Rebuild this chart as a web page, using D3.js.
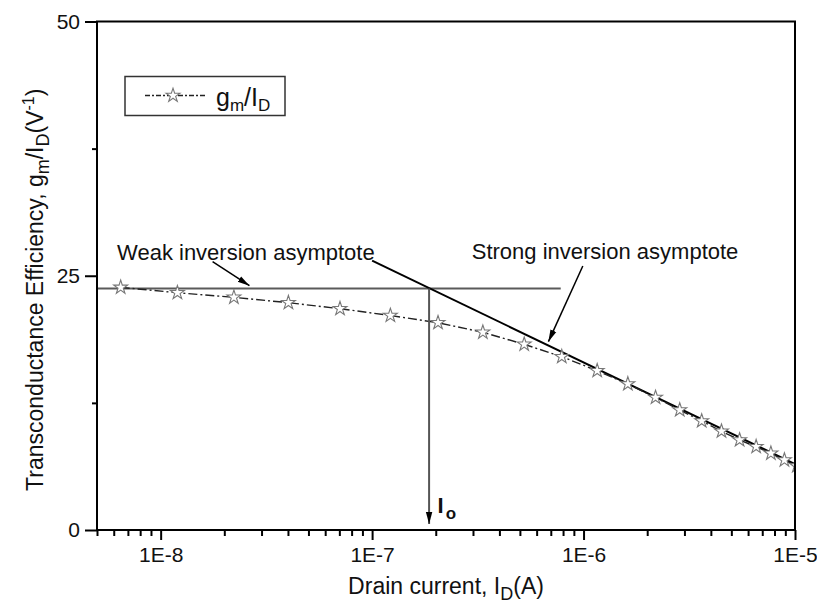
<!DOCTYPE html>
<html>
<head>
<meta charset="utf-8">
<script src="https://cdn.jsdelivr.net/npm/d3@7"></script>
<style>
  body { margin: 0; background: #fff; }
  text { font-family: "Liberation Sans", Arial, sans-serif; fill: #111; }
</style>
</head>
<body>
<div id="chart"></div>
<script>
// measured data (drain current in A, gm/Id in 1/V)
var drainCurrent = [6.47e-9, 1.20e-8, 2.22e-8, 4.02e-8, 7.05e-8, 1.22e-7, 2.05e-7, 3.34e-7,
  5.24e-7, 7.89e-7, 1.16e-6, 1.62e-6, 2.19e-6, 2.85e-6, 3.62e-6, 4.49e-6, 5.47e-6,
  6.55e-6, 7.69e-6, 8.91e-6, 1.02e-5];
var gmId = [23.86, 23.33, 22.88, 22.35, 21.76, 21.09, 20.38, 19.44, 18.26, 17.04, 15.66,
  14.36, 13.03, 11.80, 10.72, 9.71, 8.85, 8.19, 7.54, 6.88, 6.30];

// asymptotes and the I0 marker
var weakAsymptoteX = [5e-9, 7.8e-7];
var weakAsymptoteY = 23.75;
var strongAsymptoteX = [1e-7, 1e-5];
var strongAsymptoteY = [26.48, 6.49];
var currentI0 = 1.86e-7;

// annotation arrows: [x, y] start -> end in data units
var weakArrow = [[1.76e-8, 26.38], [2.63e-8, 24.02]];
var strongArrow = [[9.92e-7, 25.96], [6.82e-7, 18.52]];

// axis ticks
var xMajorTicks = [1e-8, 1e-7, 1e-6, 1e-5];
var xTickLabels = ["1E-8", "1E-7", "1E-6", "1E-5"];
var yMajorTicks = [0, 25, 50];
var yMinorTicks = [12.5, 37.5];

var svgWidth = 817;
var svgHeight = 612;
var margin = { top: 21.5, right: 22, bottom: 82, left: 97 };
var width = svgWidth - margin.left - margin.right;
var height = svgHeight - margin.top - margin.bottom;

var svg = d3.select("#chart")
  .append("svg")
  .attr("width", svgWidth)
  .attr("height", svgHeight);

var defs = svg.append("defs");
defs.append("clipPath").attr("id", "plotClip")
  .append("rect").attr("width", width).attr("height", height);

defs.append("marker")
  .attr("id", "arrowHead")
  .attr("markerUnits", "userSpaceOnUse")
  .attr("viewBox", "0 -4 12 8")
  .attr("markerWidth", 12).attr("markerHeight", 8)
  .attr("refX", 12).attr("refY", 0)
  .attr("orient", "auto")
  .append("path").attr("d", "M0,-3.2L12,0L0,3.2Z").attr("fill", "#000");

var chartGroup = svg.append("g")
  .attr("transform", `translate(${margin.left}, ${margin.top})`);

var xLogScale = d3.scaleLog().domain([5e-9, 1e-5]).range([0, width]);
var yLinearScale = d3.scaleLinear().domain([0, 50]).range([height, 0]);

// minor x ticks: 2..9 of every decade inside the domain
var xMinorTicks = xLogScale.ticks().filter(function(t) {
  return xMajorTicks.indexOf(t) < 0;
});

var minorX = d3.axisBottom(xLogScale).tickValues(xMinorTicks).tickSize(6).tickSizeOuter(0).tickFormat("");
var majorX = d3.axisBottom(xLogScale).tickValues(xMajorTicks).tickSize(10).tickSizeOuter(0).tickPadding(7)
  .tickFormat(function(d, i) { return xTickLabels[i]; });
var minorY = d3.axisLeft(yLinearScale).tickValues(yMinorTicks).tickSize(5).tickSizeOuter(0).tickFormat("");
var majorY = d3.axisLeft(yLinearScale).tickValues(yMajorTicks).tickSize(12).tickSizeOuter(0).tickPadding(5);

function styleAxis(g) {
  g.select(".domain").remove();
  g.selectAll(".tick line").attr("stroke", "#000").attr("stroke-width", 2);
  g.selectAll(".tick text").attr("font-size", "21px").attr("fill", "#111")
    .attr("font-family", "Liberation Sans, Arial, sans-serif");
}

chartGroup.append("g").attr("transform", `translate(0, ${height})`).call(minorX).call(styleAxis);
chartGroup.append("g").attr("transform", `translate(0, ${height})`).call(majorX).call(styleAxis);
chartGroup.append("g").call(minorY).call(styleAxis);
chartGroup.append("g").call(majorY).call(styleAxis);

var plot = chartGroup.append("g").attr("clip-path", "url(#plotClip)");

// weak inversion asymptote (horizontal)
plot.append("line")
  .attr("x1", xLogScale(weakAsymptoteX[0]))
  .attr("x2", xLogScale(weakAsymptoteX[1]))
  .attr("y1", yLinearScale(weakAsymptoteY))
  .attr("y2", yLinearScale(weakAsymptoteY))
  .attr("stroke", "#5a5a5a").attr("stroke-width", 2);

// vertical drop to I0
chartGroup.append("line")
  .attr("x1", xLogScale(currentI0)).attr("x2", xLogScale(currentI0))
  .attr("y1", yLinearScale(weakAsymptoteY)).attr("y2", yLinearScale(0) - 6)
  .attr("stroke", "#555").attr("stroke-width", 2)
  .attr("marker-end", "url(#arrowHead)");

// strong inversion asymptote
plot.append("line")
  .attr("x1", xLogScale(strongAsymptoteX[0])).attr("y1", yLinearScale(strongAsymptoteY[0]))
  .attr("x2", xLogScale(strongAsymptoteX[1])).attr("y2", yLinearScale(strongAsymptoteY[1]))
  .attr("stroke", "#000").attr("stroke-width", 2);

// gm/Id curve
var points = drainCurrent.map(function(d, i) { return [d, gmId[i]]; });
var lineGen = d3.line()
  .x(d => xLogScale(d[0]))
  .y(d => yLinearScale(d[1]));

plot.append("path")
  .datum(points)
  .attr("d", lineGen)
  .attr("fill", "none")
  .attr("stroke", "#222")
  .attr("stroke-width", 1.4)
  .attr("stroke-dasharray", "9,3,2,3");

var star = d3.symbol().type(d3.symbolStar).size(60);
plot.selectAll(".star")
  .data(points)
  .enter()
  .append("path")
  .attr("class", "star")
  .attr("d", star)
  .attr("transform", d => `translate(${xLogScale(d[0])}, ${yLinearScale(d[1])})`)
  .attr("fill", "#fff")
  .attr("stroke", "#777")
  .attr("stroke-width", 1.1);

// annotation arrows
[weakArrow, strongArrow].forEach(function(a) {
  chartGroup.append("line")
    .attr("x1", xLogScale(a[0][0])).attr("y1", yLinearScale(a[0][1]))
    .attr("x2", xLogScale(a[1][0])).attr("y2", yLinearScale(a[1][1]))
    .attr("stroke", "#000").attr("stroke-width", 1.5)
    .attr("marker-end", "url(#arrowHead)");
});

chartGroup.append("text")
  .attr("x", xLogScale(6.22e-9)).attr("y", yLinearScale(26.55))
  .attr("font-size", "22px")
  .text("Weak inversion asymptote");

chartGroup.append("text")
  .attr("x", xLogScale(2.96e-7)).attr("y", yLinearScale(26.62))
  .attr("font-size", "22px")
  .text("Strong inversion asymptote");

var i0Label = chartGroup.append("text")
  .attr("x", xLogScale(2.04e-7)).attr("y", yLinearScale(1.7))
  .attr("font-size", "22px").attr("font-weight", "bold");
i0Label.append("tspan").text("I");
i0Label.append("tspan").attr("dy", 6).attr("dx", 2).attr("font-size", "17px").text("o");

// frame
chartGroup.append("rect")
  .attr("width", width).attr("height", height)
  .attr("fill", "none").attr("stroke", "#000").attr("stroke-width", 2);

// legend
var legend = chartGroup.append("g").attr("transform", "translate(28, 55)");
legend.append("rect")
  .attr("width", 160).attr("height", 39)
  .attr("fill", "#fff").attr("stroke", "#333").attr("stroke-width", 1.5);
legend.append("line")
  .attr("x1", 20).attr("x2", 81).attr("y1", 19).attr("y2", 19)
  .attr("stroke", "#222").attr("stroke-width", 1.4).attr("stroke-dasharray", "5,2,2,2");
legend.append("path")
  .attr("d", star)
  .attr("transform", "translate(48, 19)")
  .attr("fill", "#fff").attr("stroke", "#777").attr("stroke-width", 1.1);
var legendText = legend.append("text").attr("x", 91).attr("y", 29).attr("font-size", "25px");
legendText.append("tspan").text("g");
legendText.append("tspan").attr("dy", 5).attr("font-size", "17px").text("m");
legendText.append("tspan").attr("dy", -5).text("/I");
legendText.append("tspan").attr("dy", 5).attr("font-size", "17px").text("D");

// axis titles
var xTitle = svg.append("text")
  .attr("x", margin.left + width / 2)
  .attr("y", 594)
  .attr("text-anchor", "middle")
  .attr("font-size", "23px");
xTitle.append("tspan").text("Drain current, I");
xTitle.append("tspan").attr("dy", 6).attr("font-size", "18px").text("D");
xTitle.append("tspan").attr("dy", -6).text("(A)");

var yTitle = svg.append("text")
  .attr("transform", `translate(43, ${margin.top + height / 2 + 14}) rotate(-90)`)
  .attr("text-anchor", "middle")
  .attr("font-size", "23px");
yTitle.append("tspan").text("Transconductance Efficiency, g");
yTitle.append("tspan").attr("dy", 6).attr("font-size", "18px").text("m");
yTitle.append("tspan").attr("dy", -6).text("/I");
yTitle.append("tspan").attr("dy", 6).attr("font-size", "18px").text("D");
yTitle.append("tspan").attr("dy", -6).text("(V");
yTitle.append("tspan").attr("dy", -9).attr("font-size", "16px").text("-1");
yTitle.append("tspan").attr("dy", 9).text(")");
</script>
</body>
</html>
